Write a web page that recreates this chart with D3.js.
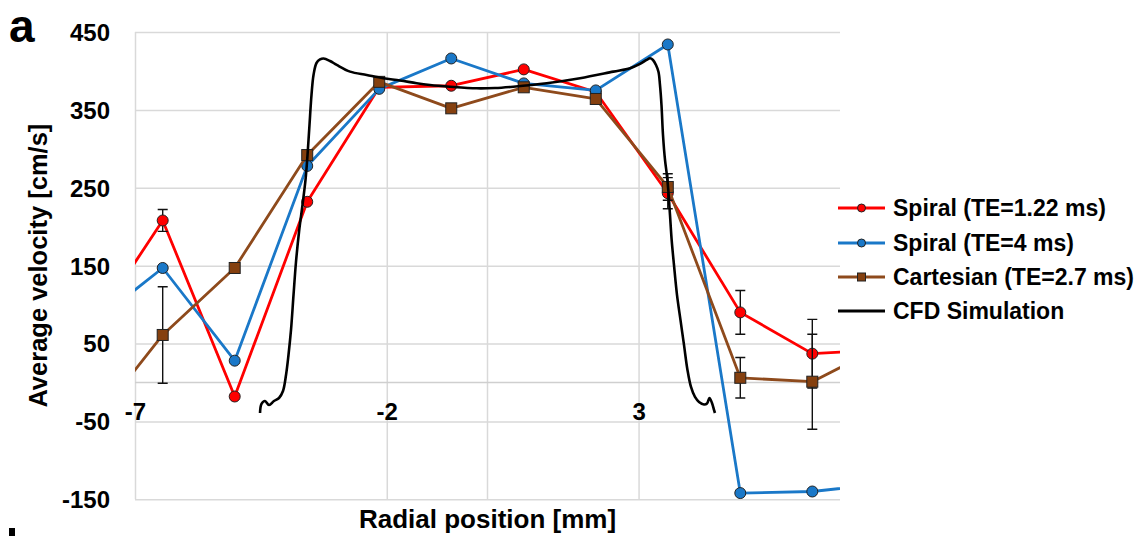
<!DOCTYPE html>
<html><head><meta charset="utf-8">
<script src="https://cdn.jsdelivr.net/npm/d3@7"></script>
<style>
body{margin:0;background:#fff}
text{font-family:Arial,"Liberation Sans",sans-serif;font-weight:bold;fill:#000}
</style></head>
<body><svg id="c" width="1147" height="536"></svg>
<script>
// ---- data ----
const positions = [-7.88, -6.45, -5.02, -3.58, -2.15, -0.72, 0.72, 2.15, 3.58, 5.02, 6.45, 7.88];
const spiral122 = [68, 208, -18, 232, 379, 381, 402, 373, 243, 90, 37, 42];
const spiral4   = [74, 147, 28, 278, 377, 416, 384, 375, 434, -142, -140, -130];
const cartesian = [-56, 61, 147, 292, 386, 352, 379, 364, 251, 6, 1, 48];
const errSpiral122 = [0, 14, 0, 0, 0, 0, 0, 0, 20, 28, 44, 0];
const errSpiral4   = [0, 0, 0, 0, 0, 0, 0, 0, 0, 0, 0, 0];
const errCartesian = [0, 62, 0, 0, 0, 0, 0, 0, 17, 26, 61, 0];
const cfdX = [-4.517,-4.488,-4.418,-4.339,-4.240,-4.140,-4.061,-4.001,-3.952,-3.902,-3.852,-3.803,-3.743,-3.674,-3.614,-3.574,-3.535,-3.495,-3.455,-3.396,-3.326,-3.257,-3.127,-2.994,-2.730,-2.399,-2.069,-1.737,-1.406,-1.142,-0.745,-0.214,0.149,0.512,1.176,1.837,2.498,2.830,3.029,3.161,3.227,3.286,3.346,3.396,3.425,3.455,3.485,3.525,3.558,3.590,3.624,3.657,3.703,3.763,3.832,3.902,3.971,4.041,4.120,4.200,4.299,4.359,4.408,4.458,4.498,4.517];
const cfdY = [-39.2,-27.6,-23.8,-28.9,-23.8,-19.9,-10.9,9.6,35.3,67.4,112.4,154.7,193.2,227.9,260.0,292.1,330.6,369.2,394.8,410.2,414.7,416.0,412.8,407.7,399.1,394.8,390.6,387.8,384.2,382.0,379.8,377.7,378.1,379.8,384.2,390.6,399.1,403.4,409.0,414.1,416.3,414.1,407.7,398.7,382.0,356.3,317.8,285.7,268.6,247.2,215.1,183.0,150.9,112.4,80.3,48.2,16.1,-5.8,-18.6,-25.0,-28.2,-27.0,-19.9,-26.3,-35.3,-39.2];
const yTickValues = [-150, -50, 50, 150, 250, 350, 450];
const xTickValues = [-7, -2, 3];
const seriesNames = ["Spiral (TE=1.22 ms)", "Spiral (TE=4 ms)", "Cartesian (TE=2.7 ms)", "CFD Simulation"];
const xTitle = "Radial position [mm]";
const yTitle = "Average velocity [cm/s]";

// ---- layout ----
const L = 135, R = 840, T = 32, B = 499.3;
const svg = d3.select("#c");
const x = d3.scaleLinear().domain([-7, 7]).range([L, R]);
const y = d3.scaleLinear().domain([-150, 450]).range([B, T]);
const gridColor = "#d9d9d9";
const fmt = d => String(d);

// horizontal gridlines + y labels
const gy = svg.append("g").attr("transform", `translate(${L},0)`)
  .call(d3.axisLeft(y).tickValues(yTickValues).tickSize(-(R - L)).tickPadding(25).tickFormat(fmt));
gy.select(".domain").remove();
gy.selectAll("line").attr("stroke", gridColor).attr("stroke-width", 1.5);
gy.selectAll("text").attr("font-size", 24).attr("dy", "0.35em");

// vertical gridlines
const gx = svg.append("g").attr("transform", `translate(0,${B})`)
  .call(d3.axisBottom(x).tickValues(xTickValues).tickSize(-(B - T)).tickFormat(""));
gx.select(".domain").remove();
gx.selectAll("line").attr("stroke", gridColor).attr("stroke-width", 1.5);

// zero axes
svg.append("line").attr("x1", x(0)).attr("x2", x(0)).attr("y1", T).attr("y2", B)
  .attr("stroke", gridColor).attr("stroke-width", 1.5);
svg.append("line").attr("x1", L).attr("x2", R).attr("y1", y(0)).attr("y2", y(0))
  .attr("stroke", "#cfcfcf").attr("stroke-width", 1.5);

// x labels at the zero line
const gxl = svg.append("g").attr("transform", `translate(0,${y(0)})`)
  .call(d3.axisBottom(x).tickValues(xTickValues).tickSize(0).tickFormat(fmt));
gxl.select(".domain").remove();
gxl.selectAll("text").attr("font-size", 24).attr("y", 29).attr("dy", "0.35em");

// clip
svg.append("clipPath").attr("id", "clip").append("rect")
  .attr("x", L).attr("y", T - 10).attr("width", R - L).attr("height", B - T + 20);
const plot = svg.append("g").attr("clip-path", "url(#clip)");

const line = d3.line().x(d => x(d[0])).y(d => y(d[1]));
const series = [
  {vals: spiral122, err: errSpiral122, color: "#ff0000", fill: "#ff0000", shape: "circle"},
  {vals: spiral4, err: errSpiral4, color: "#1a78c8", fill: "#1a78c8", shape: "circle"},
  {vals: cartesian, err: errCartesian, color: "#8e4a1c", fill: "#85400f", shape: "square"}
];

series.forEach(s => {
  const pts = positions.map((p, i) => [p, s.vals[i], s.err[i]]);
  plot.append("path").datum(pts).attr("d", line)
    .attr("fill", "none").attr("stroke", s.color).attr("stroke-width", 2.8).attr("stroke-linejoin", "round");
  const eb = plot.append("g");
  pts.filter(d => d[2] > 0).forEach(d => {
    eb.append("line").attr("x1", x(d[0])).attr("x2", x(d[0])).attr("y1", y(d[1] - d[2])).attr("y2", y(d[1] + d[2]))
      .attr("stroke", "#111").attr("stroke-width", 1.4);
    [d[1] - d[2], d[1] + d[2]].forEach(v => {
      eb.append("line").attr("x1", x(d[0]) - 5).attr("x2", x(d[0]) + 5).attr("y1", y(v)).attr("y2", y(v))
        .attr("stroke", "#111").attr("stroke-width", 1.4);
    });
  });
  if (s.shape === "circle") {
    plot.selectAll(null).data(pts).enter().append("circle")
      .attr("cx", d => x(d[0])).attr("cy", d => y(d[1])).attr("r", 5.5)
      .attr("fill", s.fill).attr("stroke", "#222").attr("stroke-width", 1);
  } else {
    plot.selectAll(null).data(pts).enter().append("rect")
      .attr("x", d => x(d[0]) - 5.5).attr("y", d => y(d[1]) - 5.5).attr("width", 11).attr("height", 11)
      .attr("fill", s.fill).attr("stroke", "#222").attr("stroke-width", 1);
  }
});

// CFD
const cfd = cfdX.map((v, i) => [v, cfdY[i]]);
plot.append("path").datum(cfd).attr("d", line.curve(d3.curveCatmullRom.alpha(0.5)))
  .attr("fill", "none").attr("stroke", "#000").attr("stroke-width", 2.6).attr("stroke-linejoin", "round");

// legend
const legY = [208, 243, 277, 311];
const legColors = ["#ff0000", "#1a78c8", "#8e4a1c", "#000"];
const legFill = ["#ff0000", "#1a78c8", "#85400f", null];
seriesNames.forEach((name, i) => {
  const g = svg.append("g").attr("transform", `translate(0,${legY[i]})`);
  g.append("line").attr("x1", 838).attr("x2", 885).attr("y1", 0).attr("y2", 0)
    .attr("stroke", legColors[i]).attr("stroke-width", 2.8);
  if (i < 2) g.append("circle").attr("cx", 861.5).attr("cy", 0).attr("r", 4).attr("fill", legFill[i]).attr("stroke", "#222").attr("stroke-width", 1);
  if (i === 2) g.append("rect").attr("x", 857.5).attr("y", -4).attr("width", 8).attr("height", 8).attr("fill", legFill[i]).attr("stroke", "#222").attr("stroke-width", 1);
  g.append("text").attr("x", 893).attr("y", 0).attr("dy", "0.35em").attr("font-size", 23).text(name);
});

// titles
svg.append("text").attr("x", (L + R) / 2).attr("y", 528).attr("text-anchor", "middle").attr("font-size", 26).text(xTitle);
svg.append("text").attr("transform", `translate(47,${(T + B) / 2}) rotate(-90)`).attr("text-anchor", "middle").attr("font-size", 25.5).text(yTitle);
svg.append("text").attr("x", 9).attr("y", 42).attr("font-size", 46).text("a");
// fragment of the next panel's label at the bottom edge
svg.append("rect").attr("x", 9).attr("y", 528).attr("width", 6).attr("height", 8).attr("fill", "#000");
</script></body></html>
